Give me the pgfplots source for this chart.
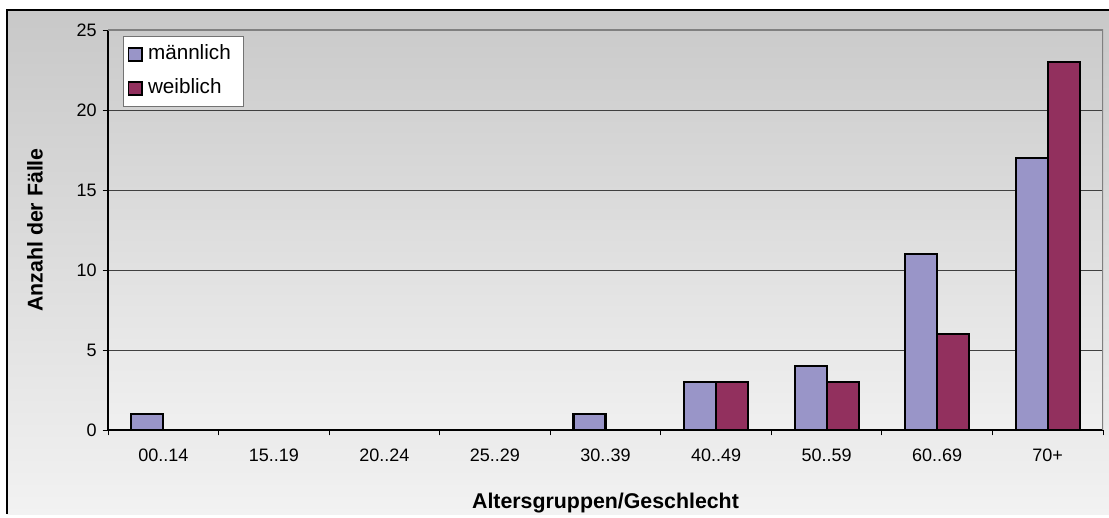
\documentclass[border=0pt]{standalone}
\usepackage{fontspec}
\setmainfont{Liberation Sans}
\usepackage{pgfplots}
\pgfplotsset{compat=1.18}
\definecolor{male}{RGB}{153,149,200}
\definecolor{female}{RGB}{146,48,94}
\definecolor{bgtop}{RGB}{200,200,200}
\definecolor{bgbot}{RGB}{242,242,242}
\definecolor{pltop}{RGB}{203,203,203}
\definecolor{plbot}{RGB}{240,240,240}
\pgfplotsset{sqlegend/.style={legend image code/.code={\draw[##1,line width=1.4pt] (0pt,-5pt) rectangle (10pt,5pt);}}}
\begin{document}
\begin{tikzpicture}
\begin{scope}[x=0.75pt,y=0.75pt]
\path[use as bounding box] (0,0) rectangle (1109,514);
\shade[top color=bgtop, bottom color=bgbot] (7,0) rectangle (1109,504);
\draw[black,line width=0.9pt] (7,0)--(7,504)--(1109,504);
\end{scope}
\begin{axis}[
  at={(81pt,63pt)}, anchor=south west,
  scale only axis, width=746.25pt, height=300pt,
  xmin=-0.5, xmax=8.5, ymin=0, ymax=25,
  ybar=0pt, bar width=24pt,
  axis lines=left, axis line style={-, black, line width=0.8pt},
  axis background/.style={shade, top color=pltop, bottom color=plbot},
  xtick={0,...,8},
  xticklabels={00..14,15..19,20..24,25..29,30..39,40..49,50..59,60..69,70+},
  major x tick style={draw=none},
  minor xtick={-0.5,0.5,...,8.5},
  minor x tick style={black, line width=0.6pt},
  minor tick length=4pt,
  ytick={0,5,...,25}, major tick length=4pt,
  y tick style={black, line width=0.6pt},
  tick align=outside,
  ymajorgrids, grid style={draw=black!75, line width=0.6pt},
  /pgf/number format/assume math mode=true,
  every tick label/.append style={font=\fontsize{13.5}{16}\selectfont},
  xticklabel style={yshift=-7pt},
  yticklabel style={xshift=-1pt},
  label style={font=\fontsize{16}{19}\selectfont\bfseries},
  xlabel={Altersgruppen/Geschlecht},
  xlabel style={at={(axis description cs:0.5,-0.182)}, anchor=center},
  ylabel={Anzahl der Fälle},
  ylabel style={at={(axis description cs:-0.0734,0.5)}, anchor=center},
  legend style={at={(axis description cs:0.015,0.985)}, anchor=north west,
    draw=black!55, line width=0.9pt, fill=white, font=\fontsize{15.5}{18}\selectfont,
    row sep=8.5pt, column sep=2.5pt, inner xsep=3pt, inner ysep=5pt,
    nodes={inner sep=1.5pt, text height=11pt, text depth=3pt}},
  legend cell align=left,
]
\addplot[fill=male, draw=black, line width=1.6pt, sqlegend]
  coordinates {(0,1) (4,1) (5,3) (6,4) (7,11) (8,17)};
\addplot[fill=female, draw=black, line width=1.6pt, sqlegend]
  coordinates {(5,3) (6,3) (7,6) (8,23)};
\legend{\makebox[67pt][l]{männlich},weiblich}
\draw[gray, line width=1pt] (rel axis cs:0,1) -- (rel axis cs:1,1) -- (rel axis cs:1,0);
\end{axis}
\end{tikzpicture}
\end{document}
